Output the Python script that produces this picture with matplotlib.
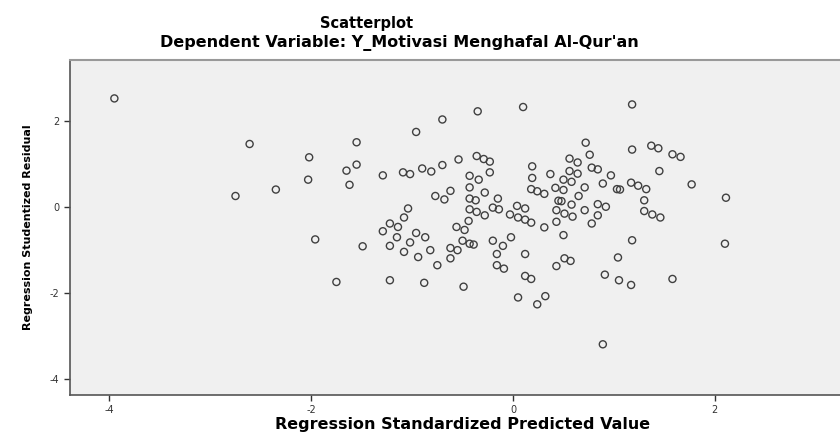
import numpy as np
import matplotlib
matplotlib.use("Agg")
import matplotlib.pyplot as plt

# Regression Standardized Predicted Value (x) / Studentized Residual (y)
pred = [-3.95, -2.61, -2.02, -2.03, -2.35, -2.75, 0.10, -0.35, -0.70, -0.96,
        -1.55, -1.55, -1.65, -1.62, -1.29, -1.09, -1.02, -0.90, -0.81, -0.70,
        -0.54, -0.36, -0.29, -0.23, -0.23, -0.43, -0.34, 0.19, 0.19, 0.37,
        -0.43, -0.28, -0.62, -0.77, -0.68, 0.18, 0.24, 0.31, 0.42, -0.43,
        -0.37, -0.15, 0.45, -1.04, -0.43, -0.36, -0.20, -0.14, -0.28, 0.04,
        0.12, -0.03, 0.05, 0.12, 0.18, 0.31, 0.43, 0.43, -1.08, -1.22,
        -1.14, -1.29, -0.96, -0.44, -0.56, -0.48, 1.18, 0.72, 1.18, 1.37,
        1.44, 1.58, 1.66, 0.76, 0.56, 0.64, 0.78, 0.84, 0.56, 0.64,
        0.97, 1.45, 0.50, 0.58, 0.89, 0.50, 0.71, 1.03, 1.06, 1.17,
        1.24, 1.32, 1.77, 2.11, 0.65, 0.48, 0.58, 1.30, 0.84, 0.92,
        0.71, 0.51, 0.59, 0.84, 1.30, 1.38, 1.46, 0.78, -0.87, -1.15,
        -1.96, -1.49, -1.22, -1.02, -1.08, -0.94, -0.82, -0.75, -0.62, -0.55,
        -0.62, -0.50, -0.43, -0.39, -0.20, -0.10, -0.02, -0.16, 0.12, -0.16,
        -0.09, 0.12, 0.18, -1.75, -1.22, -0.88, -0.49, 0.05, 0.32, 0.24,
        0.43, 0.50, 1.18, 2.10, 1.04, 0.51, 0.57, 0.91, 1.05, 1.17,
        1.58, 0.89]
resid = [2.53, 1.47, 1.16, 0.64, 0.41, 0.26, 2.33, 2.23, 2.04, 1.75,
         1.51, 0.99, 0.85, 0.52, 0.74, 0.81, 0.77, 0.90, 0.83, 0.98,
         1.11, 1.19, 1.12, 1.06, 0.81, 0.73, 0.64, 0.95, 0.68, 0.77,
         0.46, 0.34, 0.38, 0.26, 0.18, 0.42, 0.37, 0.31, 0.45, 0.20,
         0.16, 0.20, 0.15, -0.03, -0.05, -0.11, -0.01, -0.05, -0.19, 0.03,
         -0.03, -0.17, -0.24, -0.29, -0.36, -0.47, -0.07, -0.34, -0.24, -0.38,
         -0.46, -0.56, -0.60, -0.32, -0.46, -0.53, 2.39, 1.50, 1.34, 1.43,
         1.37, 1.23, 1.17, 1.22, 1.13, 1.04, 0.92, 0.88, 0.84, 0.78,
         0.74, 0.84, 0.64, 0.59, 0.55, 0.40, 0.46, 0.42, 0.41, 0.57,
         0.50, 0.42, 0.53, 0.22, 0.26, 0.14, 0.06, 0.16, 0.07, 0.01,
         -0.07, -0.15, -0.22, -0.19, -0.09, -0.17, -0.24, -0.38, -0.70, -0.70,
         -0.75, -0.91, -0.90, -0.82, -1.04, -1.16, -1.00, -1.35, -0.95, -1.00,
         -1.19, -0.78, -0.85, -0.87, -0.78, -0.90, -0.70, -1.09, -1.09, -1.35,
         -1.43, -1.60, -1.67, -1.74, -1.70, -1.76, -1.85, -2.10, -2.07, -2.26,
         -1.37, -0.65, -0.77, -0.85, -1.17, -1.19, -1.25, -1.57, -1.70, -1.81,
         -1.67, -3.19]
ticks = [-4, -2, 0, 2]

plt.rcParams['font.family'] = ['DejaVu Sans']
plt.rcParams['axes.unicode_minus'] = False

fig = plt.figure(figsize=(8.4, 4.36), dpi=100)
ax = fig.add_axes([0.0833, 0.094, 0.9167, 0.768])
ax.set_facecolor('#f0f0f0')

ax.scatter(pred, resid, s=26, facecolors='none', edgecolors='#404040', linewidths=1.0)

ax.set_xlim(-4.39, 3.24)
ax.set_ylim(-4.37, 3.42)
ax.set_xticks(ticks)
ax.set_yticks(ticks)
ax.tick_params(labelsize=7, colors='#333333', length=4, width=1)

for s in ['left', 'bottom']:
    ax.spines[s].set_color('#555555')
    ax.spines[s].set_linewidth(1.2)
ax.spines['top'].set_color('#999999')
ax.spines['top'].set_linewidth(1.5)
ax.spines['right'].set_visible(False)

ax.set_xlabel('Regression Standardized Predicted Value', fontsize=11.5, fontweight='bold')
ax.xaxis.set_label_coords(0.51, -0.066)
ax.set_ylabel('Regression Studentized Residual', fontsize=8, fontweight='bold', labelpad=12)

fig.text(0.436, 0.947, 'Scatterplot', ha='center', va='center', fontsize=10.5, fontweight='bold')
fig.text(0.476, 0.902, "Dependent Variable: Y_Motivasi Menghafal Al-Qur'an", ha='center', va='center',
         fontsize=11.5, fontweight='bold')

fig.savefig('out.png', dpi=100)
